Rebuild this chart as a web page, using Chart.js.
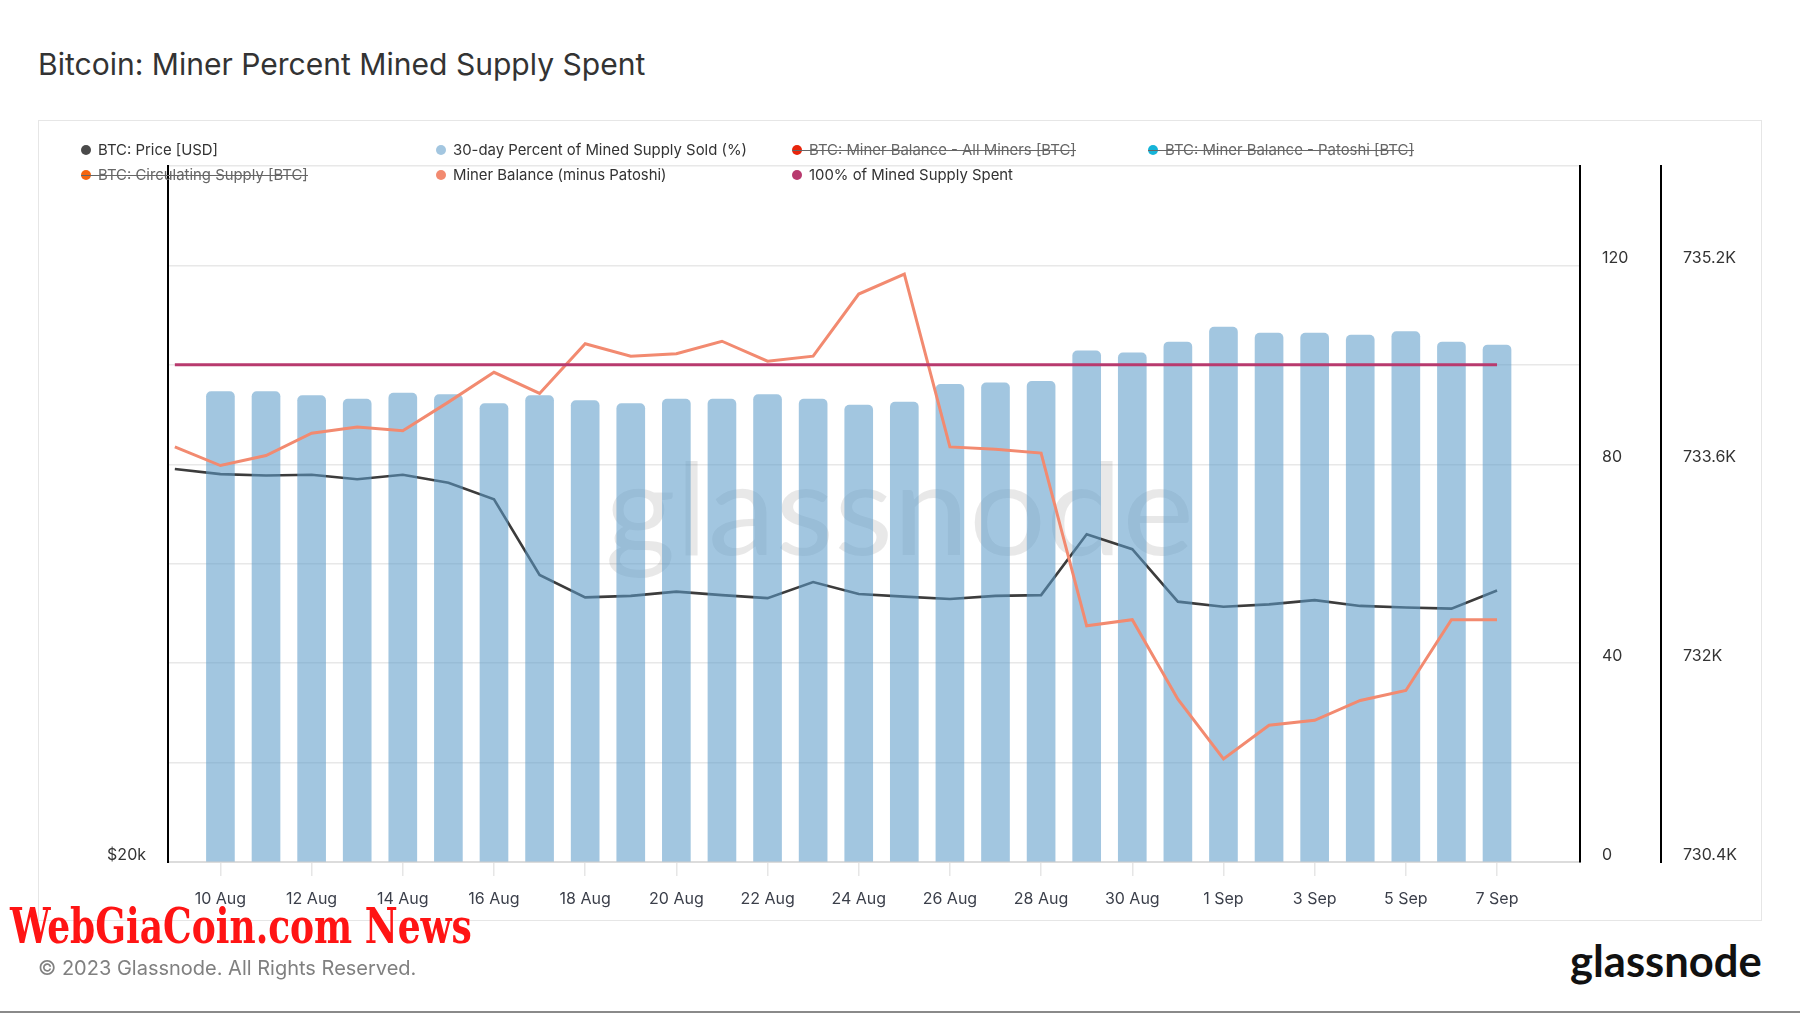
<!DOCTYPE html>
<html>
<head>
<meta charset="utf-8">
<script src="https://cdn.jsdelivr.net/npm/chart.js@4.4.0/dist/chart.umd.min.js"></script>
<style>
html,body{margin:0;padding:0;background:#fff;}
body{width:1800px;height:1013px;position:relative;overflow:hidden;font-family:Inter,sans-serif;}
#title{position:absolute;left:38px;top:44px;font-size:30px;font-weight:400;color:#333;white-space:nowrap;line-height:40px;transform-origin:left center;}
#card{position:absolute;left:38px;top:120px;width:1724px;height:801px;box-sizing:border-box;border:1.5px solid #e6e6e6;}
#chart{position:absolute;left:38px;top:120px;}
.leg{position:absolute;height:20px;line-height:20px;font-size:14.9px;color:#333;white-space:nowrap;}
.leg .dot{display:inline-block;width:10px;height:10px;border-radius:50%;vertical-align:middle;margin-right:7px;position:relative;top:-1px;}
.leg.off{color:#666;}
.leg .strike{position:absolute;left:0;right:0;top:10px;height:1px;background:#666;}
#copy{position:absolute;left:38px;top:955px;font-size:20px;color:#808080;white-space:nowrap;line-height:26px;}
#logo{position:absolute;left:1570px;top:935px;font-family:Lato,sans-serif;font-size:44px;font-weight:700;color:#111;white-space:nowrap;line-height:50px;transform-origin:left center;}
#news{position:absolute;left:10px;top:898px;font-family:"DejaVu Serif Condensed","DejaVu Serif",serif;font-weight:bold;font-size:48px;color:#ff1414;white-space:nowrap;line-height:56px;transform-origin:left center;}
#bottomline{position:absolute;left:0;top:1011px;width:1800px;height:2px;background:#8a8a8a;}
</style>
</head>
<body>
<div id="title">Bitcoin: Miner Percent Mined Supply Spent</div>
<div id="card"></div>
<canvas id="chart" width="1724" height="801"></canvas>
<div id="news">WebGiaCoin.com News</div>
<div id="copy">© 2023 Glassnode. All Rights Reserved.</div>
<div id="logo">glassnode</div>
<div id="bottomline"></div>
<script>
// days shown on the x axis (9 Aug .. 7 Sep 2023)
var days = ['9 Aug','10 Aug','11 Aug','12 Aug','13 Aug','14 Aug','15 Aug','16 Aug','17 Aug','18 Aug',
  '19 Aug','20 Aug','21 Aug','22 Aug','23 Aug','24 Aug','25 Aug','26 Aug','27 Aug','28 Aug',
  '29 Aug','30 Aug','31 Aug','1 Sep','2 Sep','3 Sep','4 Sep','5 Sep','6 Sep','7 Sep'];
var xTickIdx = [1,3,5,7,9,11,13,15,17,19,21,23,25,27,29];

// BTC: Price [USD]
var price = [29580,29430,29390,29410,29280,29410,29180,28700,26620,26030,
  26070,26180,26090,26010,26430,26120,26050,25990,26070,26090,
  27720,27310,25920,25790,25850,25960,25810,25770,25740,26210];
// 30-day Percent of Mined Supply Sold (%)
var pctSold = [null,94.6,94.6,93.8,93.1,94.3,94.0,92.2,93.8,92.8,
  92.2,93.1,93.1,94.0,93.1,91.9,92.5,96.1,96.4,96.7,
  102.8,102.4,104.6,107.6,106.4,106.4,106.0,106.7,104.6,104.0];
// Miner Balance (minus Patoshi) [BTC]
var minerBal = [733740,733590,733670,733850,733900,733870,734100,734340,734170,734570,
  734470,734490,734590,734430,734470,734970,735130,733740,733720,733690,
  732300,732350,731710,731230,731500,731540,731700,731780,732350,732350];
// 100% of Mined Supply Spent
var fullSpent = days.map(function(){ return 100; });

var balTicks = [730400,732000,733600,735200];

// legend
var legNames = ['BTC: Price [USD]','30-day Percent of Mined Supply Sold (%)','BTC: Miner Balance - All Miners [BTC]','BTC: Miner Balance - Patoshi [BTC]',
  'BTC: Circulating Supply [BTC]','Miner Balance (minus Patoshi)','100% of Mined Supply Spent'];
var legColors = ['#4a4a4a','#a3c6e0','#e8250c','#16b4d8','#f4650f','#f28a70','#b83a6e'];
var legOff = [false,false,true,true,true,false,false];
var legCols = [81,436,792,1148];
var legRows = [140,165];

legNames.forEach(function(name, i){
  var d = document.createElement('div');
  d.className = 'leg' + (legOff[i] ? ' off' : '');
  d.style.left = legCols[i % 4] + 'px';
  d.style.top = legRows[Math.floor(i / 4)] + 'px';
  d.innerHTML = '<span class="dot" style="background:' + legColors[i] + '"></span>' + name +
    (legOff[i] ? '<div class="strike"></div>' : '');
  document.body.appendChild(d);
});

function fitWidth(id, w){
  var el = document.getElementById(id);
  el.style.transform = 'scaleX(' + (w / el.offsetWidth) + ')';
}
fitWidth('title', 607);
fitWidth('news', 462);
fitWidth('logo', 192);

function pts(arr){
  return arr.map(function(v, i){ return {x: i, y: v}; });
}

var watermark = {
  id: 'watermark',
  beforeDatasetsDraw: function(chart){
    var ctx = chart.ctx, a = chart.chartArea;
    ctx.save();
    ctx.font = '128px Lato';
    ctx.fillStyle = 'rgba(0,0,0,0.09)';
    ctx.textBaseline = 'alphabetic';
    var w = ctx.measureText('glassnode').width;
    var cx = a.left + (a.right - a.left) * 0.518;
    ctx.translate(cx - 589 / 2, a.top + (a.bottom - a.top) * 0.559);
    ctx.scale(589 / w, 1);
    ctx.fillText('glassnode', 0, 0);
    ctx.restore();
  }
};

Chart.defaults.font.family = 'Inter';
Chart.defaults.color = '#333';

new Chart(document.getElementById('chart'), {
  data: {
    datasets: [
      {type: 'line', label: 'BTC: Price [USD]', data: pts(price), yAxisID: 'yPrice',
        borderColor: '#3c3c3c', borderWidth: 2.6, pointRadius: 0, order: 3},
      {type: 'bar', label: '30-day Percent of Mined Supply Sold (%)', data: pts(pctSold), yAxisID: 'yPct',
        backgroundColor: 'rgba(91,155,200,0.57)', barThickness: 28, borderRadius: 5, borderSkipped: 'start', order: 2},
      {type: 'line', label: 'Miner Balance (minus Patoshi)', data: pts(minerBal), yAxisID: 'yBal',
        borderColor: '#f28a70', borderWidth: 3, pointRadius: 0, order: 1},
      {type: 'line', label: '100% of Mined Supply Spent', data: pts(fullSpent), yAxisID: 'yPct',
        borderColor: '#b83a6e', borderWidth: 3, pointRadius: 0, order: 0}
    ]
  },
  options: {
    responsive: false,
    animation: false,
    layout: {padding: {top: 46, left: 0, right: 0, bottom: 0}},
    plugins: {legend: {display: false}, tooltip: {enabled: false}},
    scales: {
      x: {
        type: 'linear', min: -0.15, max: 30.82, offset: false,
        afterBuildTicks: function(s){ s.ticks = xTickIdx.map(function(v){ return {value: v}; }); },
        ticks: {callback: function(v){ return days[v]; }, font: {size: 16}, color: '#3b3f4a', padding: 14, maxRotation: 0, autoSkip: false},
        grid: {drawOnChartArea: false, drawTicks: true, tickLength: 14, color: '#e6e6e6', lineWidth: 1.5, offset: false},
        border: {color: '#dcdcdc', width: 2},
        afterFit: function(s){ s.height = 59; }
      },
      yPrice: {
        type: 'logarithmic', position: 'left', min: 20000, max: 40000,
        afterBuildTicks: function(s){ s.ticks = [{value: 20000}]; },
        ticks: {callback: function(){ return '$20k'; }, padding: 14, labelOffset: -7, font: {size: 16}, color: '#333'},
        grid: {display: false},
        border: {color: '#000', width: 2},
        afterFit: function(s){ s.width = 130; }
      },
      yPct: {
        position: 'right', min: 0, max: 140, weight: 0,
        ticks: {stepSize: 20, callback: function(v){ return v % 40 === 0 ? v : ''; }, padding: 22, labelOffset: -7, autoSkip: false, font: {size: 16}, color: '#333'},
        grid: {color: '#e8e8e8', lineWidth: 1.5, drawTicks: false},
        border: {color: '#000', width: 2},
        afterFit: function(s){ s.width = 81; }
      },
      yBal: {
        position: 'right', min: 730400, max: 736000, weight: 1,
        afterBuildTicks: function(s){ s.ticks = balTicks.map(function(v){ return {value: v}; }); },
        ticks: {callback: function(v){ return (v / 1000) + 'K'; }, padding: 14, labelOffset: -7, font: {size: 16}, color: '#333'},
        grid: {display: false},
        border: {color: '#000', width: 2},
        afterFit: function(s){ s.width = 101; }
      }
    }
  },
  plugins: [watermark]
});
</script>
</body>
</html>
